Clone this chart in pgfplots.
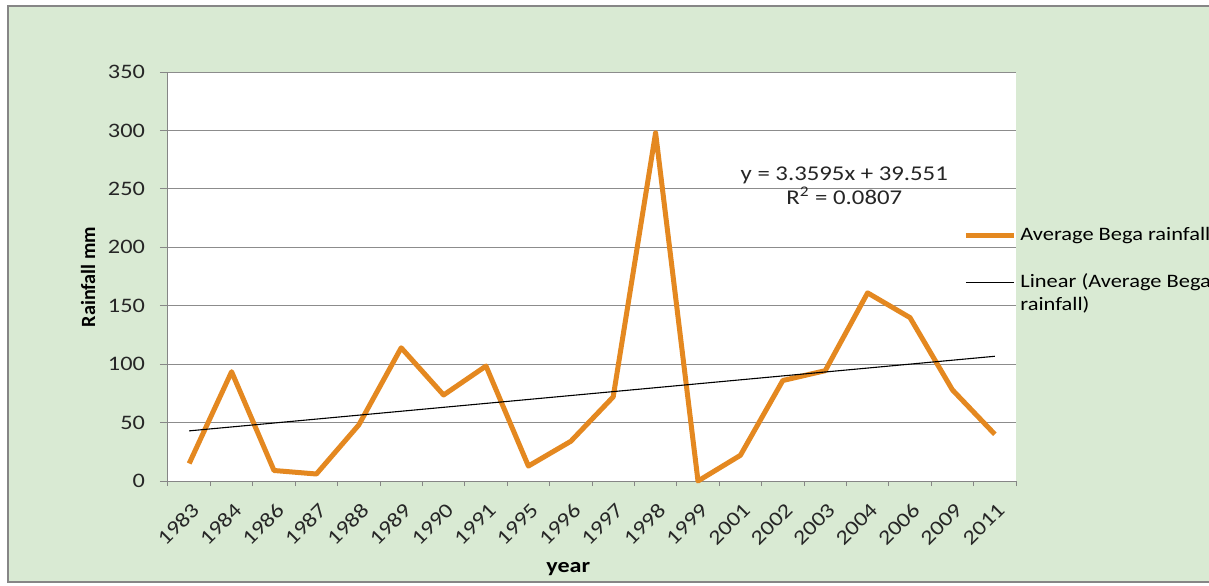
\documentclass[border=0pt]{standalone}
\usepackage{pgfplots}
\pgfplotsset{compat=1.18}
\usepackage{fontspec}
\setmainfont{Carlito}[FakeStretch=1.18]
\newfontfamily\yfont{Carlito}
\definecolor{bggreen}{RGB}{217,234,211}
\definecolor{bordergray}{RGB}{134,134,134}
\definecolor{gridgray}{RGB}{140,140,140}
\definecolor{rainorange}{RGB}{228,136,32}
\begin{document}
\begin{tikzpicture}[x=1pt,y=1pt]
\useasboundingbox (-84,-52) rectangle (520.5,240.5);
\fill[white] (-84,-52) rectangle (520.5,240.5);
\filldraw[fill=bggreen, draw=bordergray, line width=0.6pt] (-80,-50.5) rectangle (540,237.5);
\begin{axis}[
  at={(0,0)}, anchor=south west,
  scale only axis, width=424pt, height=204.5pt,
  xmin=0.5, xmax=20.5, ymin=0, ymax=350,
  axis x line=bottom, axis y line=left,
  axis line style={-, draw=bordergray, line width=0.5pt},
  axis background/.style={fill=white},
  xtick={1,...,20},
  xticklabels={1983,1984,1986,1987,1988,1989,1990,1991,1995,1996,1997,1998,1999,2001,2002,2003,2004,2006,2009,2011},
  minor xtick={0.5,1.5,...,20.5},
  major x tick style={draw=none},
  minor x tick style={draw=bordergray, line width=0.5pt},
  ytick={0,50,...,350},
  ytick style={draw=bordergray, line width=0.5pt},
  tick align=outside,
  major tick length=4pt, minor tick length=2.5pt,
  ymajorgrids, grid style={draw=gridgray, line width=0.5pt},
  /pgf/number format/assume math mode=true,
  ticklabel style={font=\fontsize{10.3}{12}\selectfont, text=black!85},
  yticklabel style={anchor=east, xshift=-4pt},
  xticklabel style={rotate=45, anchor=east, xshift=-0.5pt, yshift=-8.5pt},
  xlabel={year}, ylabel={Rainfall mm},
  xlabel style={font=\bfseries\fontsize{10.2}{12}\selectfont, at={(axis description cs:0.472,-0.216)}, anchor=center},
  ylabel style={font=\yfont\bfseries\fontsize{10.1}{12}\selectfont, at={(axis description cs:-0.0943,0.499)}, anchor=center},
  clip=false,
  legend style={draw=none, fill=none, at={(axis description cs:0.9375,0.63)}, anchor=north west,
    font=\fontsize{9.5}{11.4}\selectfont, row sep=11pt, inner sep=0pt},
  legend cell align=left,
  legend image code/.code={\draw[#1] (0pt,0pt) -- (24pt,0pt);},
]
\addplot[rainorange, line width=2.5pt, line join=round] coordinates {
(1,15) (2,93.5) (3,9) (4,6) (5,48) (6,114) (7,73.6) (8,98.4) (9,12.8) (10,34)
(11,72) (12,298) (13,0) (14,22) (15,86) (16,94.4) (17,161) (18,139.8) (19,78) (20,40)
};
\addlegendentry{Average Bega rainfall}
\addplot[black, line width=0.55pt] coordinates {(1,42.91) (20,106.74)};
\addlegendentry{\makebox[0pt][l]{\raisebox{-11.4pt}[0pt][0pt]{rainfall)}}Linear (Average Bega}
\node[align=center, font=\fontsize{10.5}{12}\selectfont, text=black!85] at (axis cs:16.45,252.5) {y = 3.3595x + 39.551\\R\textsuperscript{2} = 0.0807};
\end{axis}
\end{tikzpicture}
\end{document}
